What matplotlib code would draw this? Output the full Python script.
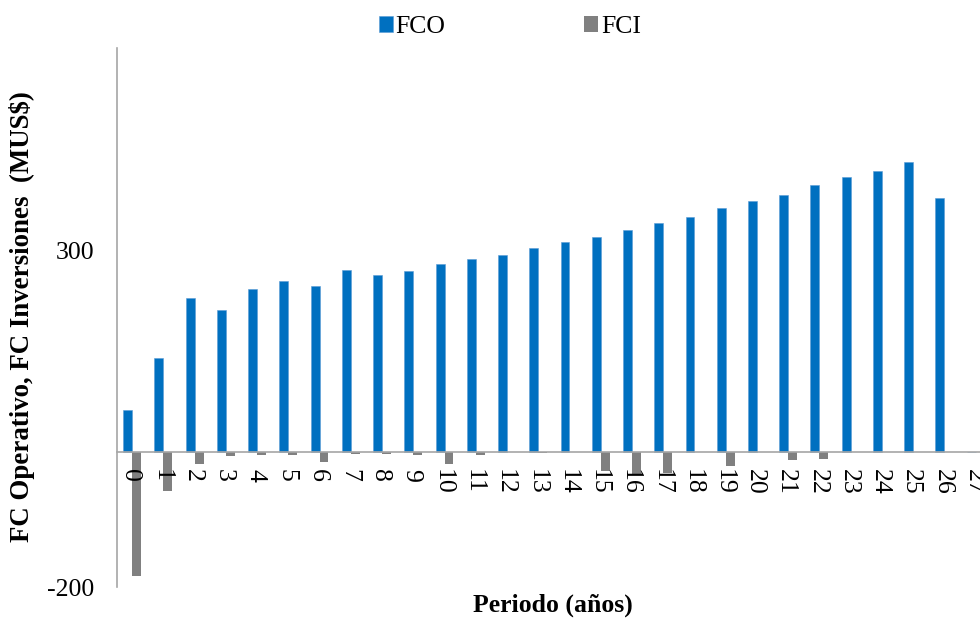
import matplotlib
matplotlib.use("Agg")
import matplotlib.pyplot as plt
import numpy as np

periods = list(range(28))
fco = [62, 140, 229, 211, 242, 254, 247, 270, 263, 269, 279, 287, 293, 303,
       312, 319, 330, 340, 349, 362, 373, 382, 396, 408, 418, 431, 377, 0]
fci = [-184, -58, -17, -6, -3.5, -3.5, -15, -3, -3, -3.5, -18, -3.5, 0, -1,
       0, -28, -32, -31, 0, -21, 0, -12, -10, 0, 0, 0, 0, 0]
series_names = ["FCO", "FCI"]
colors = ["#0070C0", "#808080"]
ylabel = "FC Operativo, FC Inversiones  (MUS$)"
xlabel = "Periodo (años)"

plt.rcParams['font.family'] = ['Liberation Serif', 'DejaVu Serif']

W, H = 980, 619
fig = plt.figure(figsize=(W / 100, H / 100), dpi=100)
left_px, right_px, top_px, bot_px = 116.5, 116.5 + 28 * 31.24, 48, 587
ax = fig.add_axes([left_px / W, 1 - bot_px / H, (right_px - left_px) / W, (bot_px - top_px) / H])

x = np.arange(len(periods))
w = 1 / 3.5
ax.bar(x - w / 2, fco, w, color=colors[0], edgecolor='#5B9BD5', linewidth=0.4, label=series_names[0], zorder=2)
ax.bar(x + w / 2, fci, w, color=colors[1], label=series_names[1], zorder=2)

ax.set_xlim(-0.5, len(periods) - 0.5)
ax.set_ylim(-200, 600)
ax.set_yticks([-200, 300])
ax.set_yticklabels(["-200", "300"], fontsize=18.5)
ax.tick_params(axis='y', length=0, pad=16)
ax.set_xticks([])
for s in ['top', 'right', 'bottom']:
    ax.spines[s].set_visible(False)
ax.spines['left'].set_color('#A6A6A6')
ax.spines['left'].set_linewidth(1.2)
ax.axhline(0, color='#A6A6A6', linewidth=1.2, zorder=3, clip_on=False)

for i, p in zip(x, periods):
    ax.annotate(str(p), xy=(i - 0.06, 0), xytext=(0, -12), textcoords='offset points',
                rotation=-90, ha='center', va='top', fontsize=18.5, annotation_clip=False)

fig.text(22 / W, 1 - 317 / H, ylabel, rotation=90, ha='center', va='center',
         fontsize=19.4, fontweight='bold')
fig.text(553 / W, 1 - 605 / H, xlabel, ha='center', va='center',
         fontsize=18.5, fontweight='bold')

fig.legend(loc='center', bbox_to_anchor=(510 / W, 1 - 27 / H), ncol=2, frameon=False,
           fontsize=18.5, handlelength=0.55, handleheight=0.55, handletextpad=0.1,
           columnspacing=5.4)

fig.savefig("out.png", dpi=100)
